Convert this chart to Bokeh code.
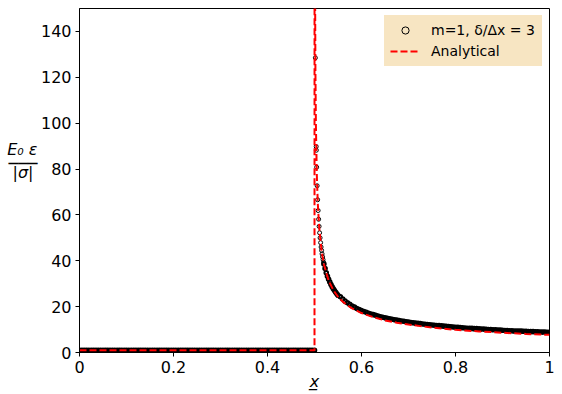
from bokeh.plotting import figure
from bokeh.models import Legend, LegendItem, FixedTicker, Range1d, LinearAxis
from bokeh.embed import file_html
from bokeh.resources import INLINE

# ---------------- data ----------------
# numerical solution, left of the interface (x <= 0.5)
x_num_left = [0.000, 0.005, 0.010, 0.015, 0.020, 0.025, 0.030, 0.035, 0.040, 0.045,
              0.050, 0.055, 0.060, 0.065, 0.070, 0.075, 0.080, 0.085, 0.090, 0.095,
              0.100, 0.105, 0.110, 0.115, 0.120, 0.125, 0.130, 0.135, 0.140, 0.145,
              0.150, 0.155, 0.160, 0.165, 0.170, 0.175, 0.180, 0.185, 0.190, 0.195,
              0.200, 0.205, 0.210, 0.215, 0.220, 0.225, 0.230, 0.235, 0.240, 0.245,
              0.250, 0.255, 0.260, 0.265, 0.270, 0.275, 0.280, 0.285, 0.290, 0.295,
              0.300, 0.305, 0.310, 0.315, 0.320, 0.325, 0.330, 0.335, 0.340, 0.345,
              0.350, 0.355, 0.360, 0.365, 0.370, 0.375, 0.380, 0.385, 0.390, 0.395,
              0.400, 0.405, 0.410, 0.415, 0.420, 0.425, 0.430, 0.435, 0.440, 0.445,
              0.450, 0.455, 0.460, 0.465, 0.470, 0.475, 0.480, 0.485, 0.490, 0.495,
              0.500]
y_num_left = [1.0, 1.0, 1.0, 1.0, 1.0, 1.0, 1.0, 1.0, 1.0, 1.0,
              1.0, 1.0, 1.0, 1.0, 1.0, 1.0, 1.0, 1.0, 1.0, 1.0,
              1.0, 1.0, 1.0, 1.0, 1.0, 1.0, 1.0, 1.0, 1.0, 1.0,
              1.0, 1.0, 1.0, 1.0, 1.0, 1.0, 1.0, 1.0, 1.0, 1.0,
              1.0, 1.0, 1.0, 1.0, 1.0, 1.0, 1.0, 1.0, 1.0, 1.0,
              1.0, 1.0, 1.0, 1.0, 1.0, 1.0, 1.0, 1.0, 1.0, 1.0,
              1.0, 1.0, 1.0, 1.0, 1.0, 1.0, 1.0, 1.0, 1.0, 1.0,
              1.0, 1.0, 1.0, 1.0, 1.0, 1.0, 1.0, 1.0, 1.0, 1.0,
              1.0, 1.0, 1.0, 1.0, 1.0, 1.0, 1.0, 1.0, 1.0, 1.0,
              1.0, 1.0, 1.0, 1.0, 1.0, 1.0, 1.0, 1.0, 1.0, 1.0,
              1.0]

# numerical solution, isolated points on the singular peak
x_num_spike = [0.5018, 0.5036, 0.5039, 0.5046, 0.5056, 0.5067, 0.5077, 0.5088, 0.5098, 0.5109,
               0.5119, 0.5130, 0.5140, 0.5151, 0.5161, 0.5172, 0.5182, 0.5193]
y_num_spike = [128.5, 89.8, 88.2, 80.8, 72.7, 66.6, 61.9, 58.1, 55.0, 52.2,
               50.0, 47.9, 46.0, 44.5, 43.0, 41.7, 40.5, 39.3]

# numerical solution, decaying tail
x_num_tail = [0.5200, 0.5225, 0.5250, 0.5275, 0.5300, 0.5325, 0.5350, 0.5375, 0.5400, 0.5425,
              0.5450, 0.5475, 0.5500,
              0.555, 0.560, 0.565, 0.570, 0.575, 0.580, 0.585, 0.590, 0.595, 0.600,
              0.605, 0.610, 0.615, 0.620, 0.625, 0.630, 0.635, 0.640, 0.645, 0.650,
              0.655, 0.660, 0.665, 0.670, 0.675, 0.680, 0.685, 0.690, 0.695, 0.700,
              0.705, 0.710, 0.715, 0.720, 0.725, 0.730, 0.735, 0.740, 0.745, 0.750,
              0.755, 0.760, 0.765, 0.770, 0.775, 0.780, 0.785, 0.790, 0.795, 0.800,
              0.805, 0.810, 0.815, 0.820, 0.825, 0.830, 0.835, 0.840, 0.845, 0.850,
              0.855, 0.860, 0.865, 0.870, 0.875, 0.880, 0.885, 0.890, 0.895, 0.900,
              0.905, 0.910, 0.915, 0.920, 0.925, 0.930, 0.935, 0.940, 0.945, 0.950,
              0.955, 0.960, 0.965, 0.970, 0.975, 0.980, 0.985, 0.990, 0.995, 1.000]
y_num_tail = [38.6, 36.6, 34.8, 33.2, 31.9, 30.7, 29.6, 28.7, 27.8, 27.0,
              26.3, 25.6, 25.0,
              24.3, 23.3, 22.4, 21.7, 21.0, 20.3, 19.8, 19.2, 18.7, 18.3,
              17.9, 17.5, 17.1, 16.8, 16.5, 16.2, 15.9, 15.6, 15.4, 15.1,
              14.9, 14.7, 14.5, 14.3, 14.1, 13.9, 13.7, 13.6, 13.4, 13.3,
              13.1, 13.0, 12.8, 12.7, 12.6, 12.4, 12.3, 12.2, 12.1, 12.0,
              11.9, 11.8, 11.7, 11.6, 11.5, 11.4, 11.3, 11.2, 11.1, 11.0,
              10.95, 10.9, 10.8, 10.7, 10.6, 10.6, 10.5, 10.4, 10.4, 10.3,
              10.2, 10.2, 10.1, 10.0, 10.0, 9.9, 9.9, 9.8, 9.8, 9.7,
              9.6, 9.6, 9.5, 9.5, 9.4, 9.4, 9.35, 9.3, 9.25, 9.2,
              9.15, 9.1, 9.1, 9.0, 9.0, 8.95, 8.9, 8.9, 8.8, 8.8]

# analytical solution
x_an = [0.0, 0.5, 0.5002, 0.5005, 0.501, 0.502, 0.503, 0.505, 0.507, 0.51,
        0.515, 0.52, 0.53, 0.54, 0.55, 0.56, 0.57, 0.58, 0.6, 0.625,
        0.65, 0.675, 0.7, 0.725, 0.75, 0.8, 0.85, 0.9, 0.95, 1.0]
y_an = [1.0, 1.0, 385.0, 243.0, 172.0, 122.0, 99.0, 77.0, 65.0, 54.4,
        44.4, 38.5, 31.4, 27.2, 24.3, 22.2, 20.6, 19.2, 17.2, 15.4,
        14.0, 13.0, 12.2, 11.5, 10.9, 9.9, 9.2, 8.6, 8.1, 7.7]

x_ticks = [0.0, 0.2, 0.4, 0.6, 0.8, 1.0]
x_tick_labels = ["0", "0.2", "0.4", "0.6", "0.8", "1"]
y_ticks = [0, 20, 40, 60, 80, 100, 120, 140]

label_num = "m=1, δ/Δx = 3"
label_an = "Analytical"
x_label = "x\u0332"
# y label written as a stacked fraction: numerator, bar, denominator
y_label_parts = ["E₀ ε", "───", "|σ|\u2005"]
y_label_rows = [88.6, 82.5, 78.3]

# ---------------- figure ----------------
p = figure(width=560, height=394, output_backend="svg", toolbar_location=None,
           x_range=Range1d(0, 1), y_range=Range1d(0, 150),
           min_border_left=79, min_border_right=11, min_border_top=8, min_border_bottom=42)
p.xgrid.visible = False
p.ygrid.visible = False
p.outline_line_color = "black"
p.outline_line_width = 1
p.background_fill_color = "white"
p.border_fill_color = "white"

for ax in (p.xaxis[0], p.yaxis[0]):
    ax.axis_line_color = "black"
    ax.axis_line_width = 1
    ax.major_tick_line_color = "black"
    ax.major_tick_out = 4
    ax.major_tick_in = 0
    ax.minor_tick_line_color = None
    ax.major_label_text_font = "DejaVu Sans"
    ax.major_label_text_font_size = "16px"
    ax.major_label_text_color = "black"
    ax.major_label_standoff = 4

p.xaxis.ticker = FixedTicker(ticks=x_ticks)
p.xaxis.major_label_overrides = {t: s for t, s in zip(x_ticks, x_tick_labels)}
p.yaxis.ticker = FixedTicker(ticks=y_ticks)

p.xaxis.axis_label = x_label
p.xaxis.axis_label_text_font = "DejaVu Sans"
p.xaxis.axis_label_text_font_style = "italic"
p.xaxis.axis_label_text_font_size = "16px"
p.xaxis.axis_label_text_color = "black"
p.xaxis.axis_label_standoff = -4

# second left axis carrying the fraction-style y label
ylab_axis = LinearAxis(ticker=FixedTicker(ticks=y_label_rows),
                       major_label_overrides={r: s for r, s in zip(y_label_rows, y_label_parts)},
                       axis_line_color=None, major_tick_line_color=None, minor_tick_line_color=None,
                       major_tick_out=0, major_tick_in=0, major_label_standoff=0,
                       major_label_text_font="DejaVu Sans", major_label_text_font_style="italic",
                       major_label_text_font_size="16px", major_label_text_color="black")
p.add_layout(ylab_axis, "left")

sc_dense = p.scatter(x_num_left + x_num_tail, y_num_left + y_num_tail, marker="circle", size=3.6,
                     fill_color=None, line_color="black", line_width=2.0)
sc = p.scatter(x_num_spike, y_num_spike, marker="circle", size=4.0, fill_color=None,
               line_color="black", line_width=1)
ln = p.line(x_an, y_an, line_color="red", line_width=2, line_dash="7 3")

legend = Legend(items=[LegendItem(label=label_num, renderers=[sc]),
                       LegendItem(label=label_an, renderers=[ln])],
                location="top_right", margin=7, padding=6, spacing=3,
                glyph_width=30, glyph_height=18, label_height=18, label_width=105,
                label_standoff=11,
                label_text_font="DejaVu Sans", label_text_font_size="14px",
                label_text_color="black",
                background_fill_color="#F5DEB3", background_fill_alpha=0.8,
                border_line_color="#F5DEB3", border_line_alpha=0.0)
p.add_layout(legend)

open("out.html", "w").write(file_html(p, INLINE))
